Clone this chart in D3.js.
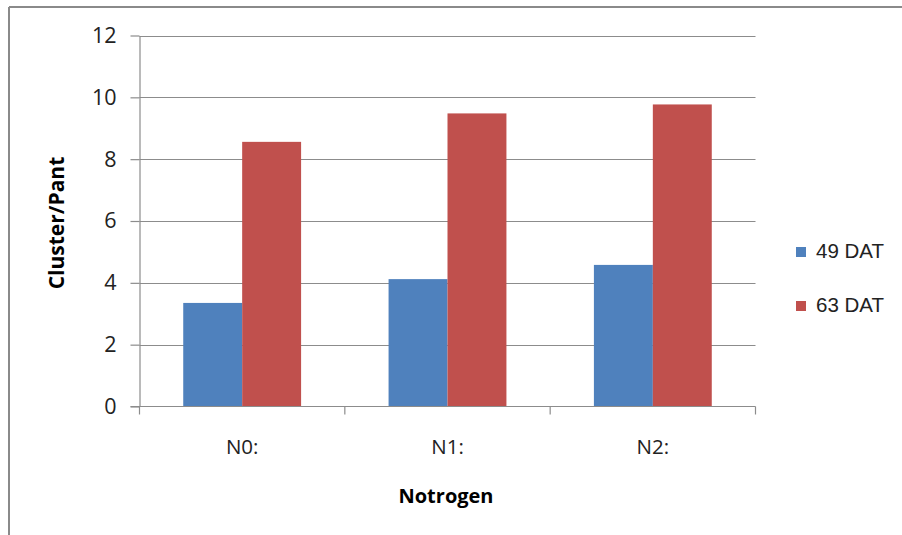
<!DOCTYPE html>
<html>
<head>
<meta charset="utf-8">
<script src="https://cdn.jsdelivr.net/npm/d3@7"></script>
<style>
  html, body { margin: 0; padding: 0; background: #fff; }
  svg { display: block; }
</style>
</head>
<body>
<svg id="chart" width="902" height="535"></svg>
<script>
const categories = ["N0:", "N1:", "N2:"];
const seriesNames = ["49 DAT", "63 DAT"];
const dat49 = [3.35, 4.12, 4.58];
const dat63 = [8.56, 9.48, 9.77];
const yTicks = [0, 2, 4, 6, 8, 10, 12];
const colors = ["#4F81BD", "#C0504D"];
const yTitle = "Cluster/Pant";
const xTitle = "Notrogen";

const svg = d3.select("#chart");

// outer frame (left and top edges)
svg.append("line").attr("x1", 9).attr("x2", 9).attr("y1", 7).attr("y2", 535)
  .attr("stroke", "#8a8a8a").attr("stroke-width", 2);
svg.append("line").attr("x1", 9).attr("x2", 902).attr("y1", 7).attr("y2", 7)
  .attr("stroke", "#8a8a8a").attr("stroke-width", 2);

const plot = { left: 139.5, right: 755.5, top: 35.5, bottom: 406.5 };

const x = d3.scaleBand().domain(categories).range([plot.left, plot.right]).paddingInner(0.426).paddingOuter(0.213);
const xs = d3.scaleBand().domain(seriesNames).range([0, x.bandwidth()]);
const y = d3.scaleLinear().domain([0, 12]).range([plot.bottom, plot.top]);

// gridlines
svg.append("g").selectAll("line").data(yTicks.filter(d => d > 0)).join("line")
  .attr("x1", plot.left).attr("x2", plot.right)
  .attr("y1", d => Math.round(y(d)) + 0.5).attr("y2", d => Math.round(y(d)) + 0.5)
  .attr("stroke", "#8c8c8c").attr("stroke-width", 1.2);

// bars
const data = categories.map((c, i) => ({ c, vals: [dat49[i], dat63[i]] }));
const groups = svg.append("g").selectAll("g").data(data).join("g")
  .attr("transform", d => `translate(${x(d.c)},0)`);
groups.selectAll("rect").data(d => d.vals.map((v, j) => ({ v, s: seriesNames[j], j }))).join("rect")
  .attr("x", d => xs(d.s))
  .attr("width", xs.bandwidth())
  .attr("y", d => y(d.v))
  .attr("height", d => y(0) - y(d.v))
  .attr("fill", d => colors[d.j]);

// y axis
const yAxis = d3.axisLeft(y).tickValues(yTicks).tickSize(9).tickSizeOuter(0).tickPadding(14);
const gy = svg.append("g").attr("transform", `translate(${plot.left},0)`).call(yAxis);
gy.select(".domain").attr("stroke", "#8c8c8c").attr("stroke-width", 1.2);
gy.selectAll(".tick line").attr("stroke", "#8c8c8c").attr("stroke-width", 1.2);
gy.selectAll(".tick text").attr("font-family", "'Open Sans', sans-serif").attr("font-size", 21.5)
  .attr("fill", "#222");

// x axis with boundary ticks
const gx = svg.append("g").attr("transform", `translate(0,${plot.bottom})`);
gx.append("line").attr("x1", plot.left - 9).attr("x2", plot.right).attr("y1", 0).attr("y2", 0)
  .attr("stroke", "#8c8c8c").attr("stroke-width", 1.2);
const boundaries = d3.range(categories.length + 1).map(i => plot.left + i * (plot.right - plot.left) / categories.length);
gx.selectAll("line.b").data(boundaries).join("line").attr("class", "b")
  .attr("x1", d => d).attr("x2", d => d).attr("y1", 0).attr("y2", 8)
  .attr("stroke", "#8c8c8c").attr("stroke-width", 1.2);
gx.selectAll("text").data(categories).join("text")
  .attr("x", d => x(d) + x.bandwidth() / 2)
  .attr("y", 47)
  .attr("text-anchor", "middle")
  .attr("font-family", "'Open Sans', sans-serif").attr("font-size", 20.5)
  .attr("fill", "#222")
  .text(d => d);

// axis titles
svg.append("text")
  .attr("transform", `translate(64,223) rotate(-90)`)
  .attr("text-anchor", "middle")
  .attr("font-family", "'Open Sans', sans-serif").attr("font-weight", "bold").attr("font-size", 21)
  .attr("fill", "#000")
  .text(yTitle);
svg.append("text")
  .attr("x", 446).attr("y", 503)
  .attr("text-anchor", "middle")
  .attr("font-family", "'Open Sans', sans-serif").attr("font-weight", "bold").attr("font-size", 20)
  .attr("fill", "#000")
  .text(xTitle);

// legend
const legend = svg.append("g").selectAll("g").data(seriesNames).join("g")
  .attr("transform", (d, i) => `translate(796,${247 + i * 54})`);
legend.append("rect").attr("width", 10).attr("height", 10).attr("fill", (d, i) => colors[i]);
legend.append("text").attr("x", 20).attr("y", 11)
  .attr("font-family", "'Liberation Sans', Arial, sans-serif").attr("font-size", 20.5)
  .attr("fill", "#222")
  .text(d => d);
</script>
</body>
</html>
